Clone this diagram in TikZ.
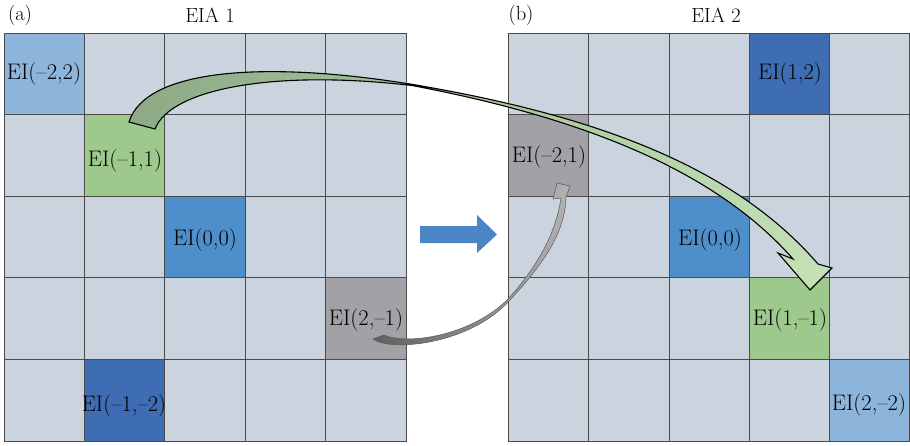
\documentclass[tikz,border=0pt]{standalone}
\definecolor{cellbg}{HTML}{CBD3DE}
\definecolor{lblue}{HTML}{8DB5DC}
\definecolor{greenc}{HTML}{9DC98C}
\definecolor{mblue}{HTML}{4E8ECB}
\definecolor{dblue}{HTML}{3F6DB4}
\definecolor{gcell}{HTML}{A2A2A6}
\definecolor{arrblue}{HTML}{4A86C6}
\definecolor{gridline}{HTML}{4A4A4A}
\definecolor{garrL}{HTML}{8CAA86}
\definecolor{garrR}{HTML}{C4E2B6}
\tikzset{
  cell/.style={draw=gridline, line width=0.8pt, fill=cellbg, minimum width=80.4pt, minimum height=81.6pt, inner sep=0pt, outer sep=0pt, anchor=north west},
  lbl/.style={font=\fontsize{22.5}{25}\selectfont, inner sep=0pt},
  ttl/.style={font=\fontsize{20.5}{24}\selectfont, inner sep=0pt},
  cL00/.style={fill=lblue}, cL11/.style={fill=greenc}, cL22/.style={fill=mblue},
  cL43/.style={fill=gcell}, cL14/.style={fill=dblue},
  cR30/.style={fill=dblue}, cR01/.style={fill=gcell}, cR22/.style={fill=mblue},
  cR33/.style={fill=greenc}, cR44/.style={fill=lblue}
}
\begin{document}
\begin{tikzpicture}[x=1pt,y=-1pt]
\useasboundingbox (0,0) rectangle (910,445);
% grids
\foreach \i in {0,...,4}{
  \foreach \j in {0,...,4}{
    \node[cell, cL\i\j/.try] (L\i\j) at ({4+80.4*\i},{33+81.6*\j}) {};
    \node[cell, cR\i\j/.try] (R\i\j) at ({508.6+80.2*\i},{33+81.6*\j}) {};
  }
}
% titles
\node[ttl] (ta) at (20,15) {(a)};
\node[ttl] (tA) at (210,15) {EIA 1};
\node[ttl] (tb) at (521,15) {(b)};
\node[ttl] (tB) at (716,15) {EIA 2};
% labels left
\node[lbl] (lL00) at (44,74) {EI(--2,2)};
\node[lbl] (lL11) at (125,161) {EI(--1,1)};
\node[lbl] (lL22) at (205,240) {EI(0,0)};
\node[lbl] (lL43) at (366,320) {EI(2,--1)};
\node[lbl] (lL14) at (124,406) {EI(--1,--2)};
% labels right
\node[lbl] (lR30) at (790,74) {EI(1,2)};
\node[lbl] (lR01) at (549,157) {EI(--2,1)};
\node[lbl] (lR22) at (710,240) {EI(0,0)};
\node[lbl] (lR33) at (790,320) {EI(1,--1)};
\node[lbl] (lR44) at (869,405) {EI(2,--2)};
% blue arrow
\fill[arrblue] (420,226) -- (477,226) -- (477,215) -- (497,234.5) -- (477,253) -- (477,243) -- (420,243) -- cycle;
% gray arrow
\shade[left color=gray!75!black, right color=gray!60, draw=black!65, line width=0.5pt]
  (373,339) .. controls (390,352) and (470,345) .. (510,300)
  .. controls (545,262) and (565,232) .. (566,197)
  -- (570,186) -- (557,183) -- (553,199) -- (561,198)
  .. controls (555,240) and (530,275) .. (508,299)
  .. controls (470,337) and (405,345) .. (384,335) -- cycle;
% green arrow
\shade[left color=garrL, right color=garrR, draw=black, line width=1.1pt, line join=miter]
  (129,122) .. controls (145,70) and (260,60) .. (410,84)
  .. controls (600,116) and (735,168) .. (818,264)
  -- (832,268) -- (810,290) -- (778,253) -- (793,259)
  .. controls (722,178) and (600,121) .. (412,85.5)
  .. controls (270,69) and (170,90) .. (155,129) -- cycle;
\end{tikzpicture}
\end{document}
